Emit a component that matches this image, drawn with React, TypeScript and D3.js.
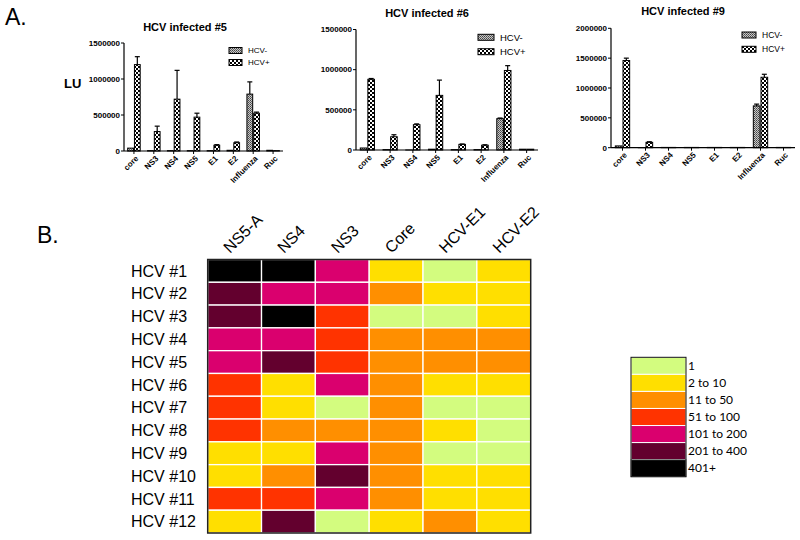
import React from "react";
import * as d3 from "d3";

// ---------- Data ----------
const barCategories = ["core", "NS3", "NS4", "NS5", "E1", "E2", "Influenza", "Ruc"];
const seriesNames = ["HCV-", "HCV+"];

const p5Neg = [40000, 5000, 5000, 5000, 5000, 10000, 790000, 10000];
const p5NegErr = [0, 0, 0, 0, 0, 0, 170000, 0];
const p5Pos = [1200000, 270000, 720000, 470000, 80000, 115000, 525000, 5000];
const p5PosErr = [110000, 75000, 400000, 55000, 8000, 10000, 15000, 0];

const p6Neg = [25000, 5000, 0, 10000, 5000, 5000, 390000, 10000];
const p6NegErr = [0, 0, 0, 0, 0, 0, 8000, 0];
const p6Pos = [880000, 165000, 315000, 680000, 70000, 60000, 990000, 10000];
const p6PosErr = [10000, 25000, 10000, 190000, 5000, 5000, 60000, 0];

const p9Neg = [30000, 0, 5000, 5000, 5000, 5000, 700000, 5000];
const p9NegErr = [0, 0, 0, 0, 0, 0, 30000, 0];
const p9Pos = [1460000, 90000, 5000, 5000, 5000, 5000, 1180000, 5000];
const p9PosErr = [40000, 10000, 0, 0, 0, 0, 50000, 0];

const heatRows = ["HCV #1", "HCV #2", "HCV #3", "HCV #4", "HCV #5", "HCV #6", "HCV #7", "HCV #8", "HCV #9", "HCV #10", "HCV #11", "HCV #12"];
const heatCols = ["NS5-A", "NS4", "NS3", "Core", "HCV-E1", "HCV-E2"];
// level index into legendLabels
const heatLevels = [
  [6, 6, 4, 1, 0, 1],
  [5, 4, 4, 2, 1, 1],
  [5, 6, 3, 0, 0, 1],
  [4, 4, 3, 2, 2, 2],
  [4, 5, 3, 2, 2, 2],
  [3, 1, 4, 2, 1, 1],
  [3, 1, 0, 2, 0, 0],
  [3, 2, 2, 2, 1, 0],
  [1, 1, 4, 2, 0, 0],
  [1, 2, 5, 2, 1, 1],
  [3, 3, 4, 2, 1, 1],
  [1, 5, 0, 1, 2, 1],
];
const legendLabels = ["1", "2 to 10", "11 to 50", "51 to 100", "101 to 200", "201 to 400", "401+"];
const levelColors = ["#d3fc7f", "#ffdf00", "#ff8f00", "#ff3300", "#da006e", "#63002e", "#000000"];

// ---------- Layout ----------
const panels = [
  { id: "p5", title: "HCV infected #5", neg: p5Neg, negErr: p5NegErr, pos: p5Pos, posErr: p5PosErr,
    x0: 124, x1: 283, yb: 151, yt: 43, max: 1500000, step: 500000,
    titleX: 185, titleY: 31, legX: 229, legY: [50.5, 62.5], legW: 13, legFont: 8 },
  { id: "p6", title: "HCV infected #6", neg: p6Neg, negErr: p6NegErr, pos: p6Pos, posErr: p6PosErr,
    x0: 356, x1: 538, yb: 150, yt: 29.5, max: 1500000, step: 500000,
    titleX: 427, titleY: 17, legX: 478, legY: [37.3, 51.7], legW: 16, legFont: 9.5 },
  { id: "p9", title: "HCV infected #9", neg: p9Neg, negErr: p9NegErr, pos: p9Pos, posErr: p9PosErr,
    x0: 611, x1: 795, yb: 147.7, yt: 28.3, max: 2000000, step: 500000,
    titleX: 683, titleY: 15, legX: 742, legY: [35, 49.3], legW: 14, legFont: 8.5 },
];

const FONT = "'Liberation Sans', Arial, sans-serif";

function BarPanel({ p }: { p: any }) {
  const x = d3.scaleBand<string>().domain(barCategories).range([p.x0, p.x1]);
  const y = d3.scaleLinear().domain([0, p.max]).range([p.yb, p.yt]);
  const ticks = d3.range(0, p.max + 1, p.step);
  const bw = x.bandwidth() * 0.29;
  const bars: any[] = [];
  barCategories.forEach((c, i) => {
    const cx = (x(c) as number) + x.bandwidth() / 2;
    [
      { v: p.neg[i], e: p.negErr[i], x: cx - bw - 0.5, fill: "url(#hatchNeg)" },
      { v: p.pos[i], e: p.posErr[i], x: cx + 0.5, fill: "url(#checkPos)" },
    ].forEach((b, k) => {
      const top = y(b.v);
      bars.push(
        <g key={c + k}>
          <rect x={b.x} y={top} width={bw} height={Math.max(0.01, p.yb - top)} fill={b.fill} stroke="#000" strokeWidth={1} />
          {b.e > 0 && (
            <g stroke="#000" strokeWidth={1.2}>
              <line x1={b.x + bw / 2} x2={b.x + bw / 2} y1={top} y2={y(b.v + b.e)} />
              <line x1={b.x + bw / 2 - 2.5} x2={b.x + bw / 2 + 2.5} y1={y(b.v + b.e)} y2={y(b.v + b.e)} />
            </g>
          )}
        </g>
      );
    });
  });
  return (
    <g fontFamily={FONT}>
      <text x={p.titleX} y={p.titleY} textAnchor="middle" fontWeight="bold" fontSize={11}>{p.title}</text>
      {bars}
      <line x1={p.x0} x2={p.x0} y1={p.yt} y2={p.yb} stroke="#000" strokeWidth={1.2} />
      <line x1={p.x0} x2={p.x1} y1={p.yb} y2={p.yb} stroke="#000" strokeWidth={1.2} />
      {ticks.map((t) => (
        <g key={t}>
          <line x1={p.x0 - 3} x2={p.x0} y1={y(t)} y2={y(t)} stroke="#000" strokeWidth={1} />
          <text x={p.x0 - 4} y={y(t)} dy="0.35em" textAnchor="end" fontSize={8} fontWeight="bold">{t}</text>
        </g>
      ))}
      {barCategories.map((c) => {
        const cx = (x(c) as number) + x.bandwidth() / 2;
        return (
          <g key={c}>
            <line x1={cx} x2={cx} y1={p.yb} y2={p.yb + 3} stroke="#000" strokeWidth={1} />
            <text transform={`translate(${cx + 3},${p.yb + 6}) rotate(-45)`} textAnchor="end" dy="0.35em" fontSize={8} fontWeight="bold">{c}</text>
          </g>
        );
      })}
      {seriesNames.map((s, i) => (
        <g key={s}>
          <rect x={p.legX} y={p.legY[i] - 3} width={p.legW} height={6} fill={i === 0 ? "url(#hatchNeg)" : "url(#checkPos)"} stroke="#000" strokeWidth={1} />
          <text x={p.legX + p.legW + 6} y={p.legY[i]} dy="0.35em" fontSize={p.legFont}>{s}</text>
        </g>
      ))}
    </g>
  );
}

function Heatmap() {
  const x = d3.scaleBand<string>().domain(heatCols).range([207.7, 530.7]);
  const y = d3.scaleBand<string>().domain(heatRows).range([259.5, 533]);
  const ly = d3.scaleBand<string>().domain(legendLabels).range([357.3, 476.7]);
  return (
    <g fontFamily={FONT}>
      {heatRows.map((r, i) =>
        heatCols.map((c, j) => (
          <rect key={r + c} x={x(c)} y={y(r)} width={x.bandwidth()} height={y.bandwidth()}
            fill={levelColors[heatLevels[i][j]]} stroke="#fff" strokeWidth={1.3} />
        ))
      )}
      <rect x={207.7} y={259.5} width={323} height={273.5} fill="none" stroke="#222" strokeWidth={1.5} />
      {heatRows.map((r) => (
        <text key={r} x={131} y={(y(r) as number) + y.bandwidth() / 2} dy="0.36em" fontSize={16}>{r}</text>
      ))}
      {heatCols.map((c) => (
        <text key={c} transform={`translate(${(x(c) as number) + x.bandwidth() / 2 - 4.5},${254}) rotate(-45)`} fontSize={16}>{c}</text>
      ))}
      {legendLabels.map((l, i) => (
        <g key={l}>
          <rect x={631} y={ly(l)} width={55} height={ly.bandwidth()} fill={levelColors[i]}
            stroke={i === 6 ? "#888" : "#fff"} strokeWidth={1} />
          <text x={688} y={(ly(l) as number) + ly.bandwidth() / 2} dy="0.36em" fontSize={12} fontFamily="Lato, 'Open Sans', sans-serif">{l}</text>
        </g>
      ))}
      <rect x={631} y={357.3} width={55} height={119.4} fill="none" stroke="#111" strokeWidth={1} />
    </g>
  );
}

export default function App() {
  return (
    <svg width={800} height={540} style={{ position: "fixed", left: 0, top: 0, background: "#fff" }}>
      <defs>
        <pattern id="hatchNeg" patternUnits="userSpaceOnUse" width={2} height={2}>
          <rect width={2} height={2} fill="#c8c8c8" />
          <rect width={1} height={1} fill="#444" />
          <rect x={1} y={1} width={1} height={1} fill="#666" />
        </pattern>
        <pattern id="checkPos" patternUnits="userSpaceOnUse" width={4} height={4}>
          <rect width={4} height={4} fill="#fff" />
          <rect width={2} height={2} fill="#000" />
          <rect x={2} y={2} width={2} height={2} fill="#000" />
        </pattern>
      </defs>
      <rect width={800} height={540} fill="#fff" />
      <text x={5} y={25} fontSize={23} fontFamily={FONT}>A.</text>
      <text x={64} y={88} fontSize={13} fontWeight="bold" fontFamily={FONT}>LU</text>
      <text x={37} y={243} fontSize={23} fontFamily={FONT}>B.</text>
      {panels.map((p) => <BarPanel key={p.id} p={p} />)}
      <Heatmap />
    </svg>
  );
}
